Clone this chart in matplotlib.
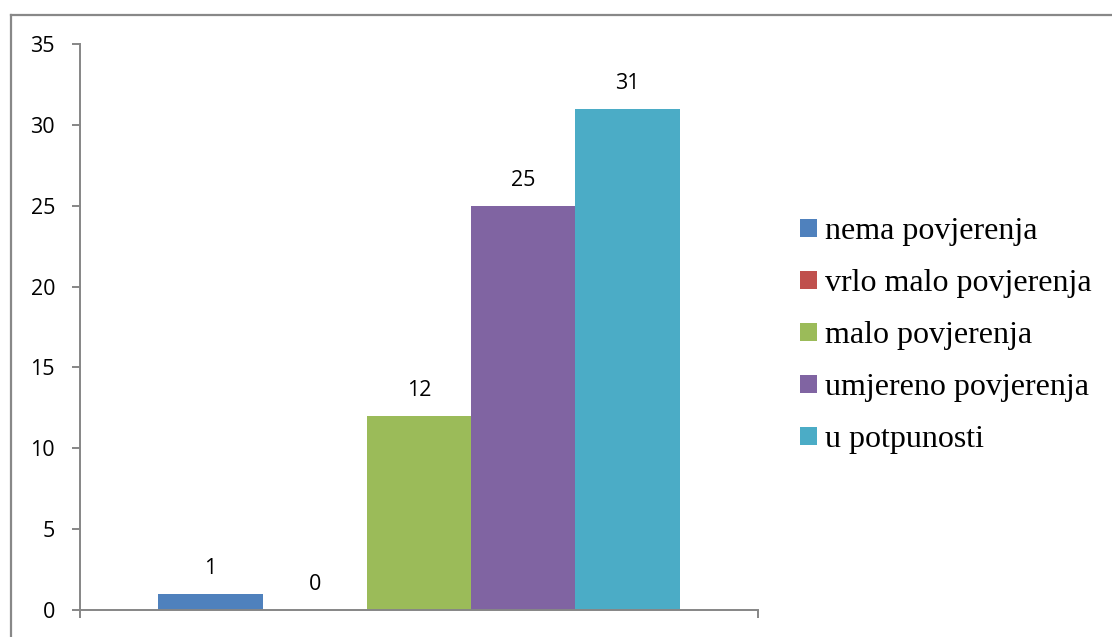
import numpy as np
import matplotlib
matplotlib.use("Agg")
import matplotlib.pyplot as plt
from matplotlib.lines import Line2D

# data
labels = ["nema povjerenja", "vrlo malo povjerenja", "malo povjerenja",
          "umjereno povjerenja", "u potpunosti"]
values = [1, 0, 12, 25, 31]
colors = ["#4F81BD", "#C0504D", "#9BBB59", "#8064A2", "#4BACC6"]
yticks = [0, 5, 10, 15, 20, 25, 30, 35]

W, H = 1112, 637
fig = plt.figure(figsize=(W / 100, H / 100), dpi=100)
fig.patch.set_facecolor("white")

ax = fig.add_axes([80 / W, 1 - 610 / H, 678 / W, (610 - 44) / H])

x = np.arange(len(values))
for i, (v, c, lab) in enumerate(zip(values, colors, labels)):
    ax.bar(x[i], v, width=1.0, color=c, label=lab, zorder=2)
    ax.annotate(str(v), (x[i], v), xytext=(0, 18), textcoords="offset points",
                ha="center", va="center", fontsize=15.5,
                family="Open Sans", color="black")

ax.set_xlim(-1.25, len(values) + 0.25)
ax.set_ylim(0, 35)
ax.set_yticks(yticks)
ax.set_yticklabels([str(t) for t in yticks], family="Open Sans", fontsize=15.5)
ax.set_xticks([-1.25, len(values) + 0.25])
ax.set_xticklabels(["", ""])

grey = "#868686"
for s in ["top", "right"]:
    ax.spines[s].set_visible(False)
for s in ["left", "bottom"]:
    ax.spines[s].set_color(grey)
    ax.spines[s].set_linewidth(1.4)
ax.tick_params(axis="both", direction="out", length=6, width=1.4, color=grey)
ax.tick_params(axis="y", pad=12)

leg = fig.legend(loc="center left", bbox_to_anchor=(800 / W, 1 - 336 / H),
                 frameon=False, prop={"family": "Liberation Serif", "size": 23},
                 handlelength=0.52, handleheight=0.52, handletextpad=0.25,
                 labelspacing=0.72, borderaxespad=0, borderpad=0)

# outer frame (top and left edges visible)
fig.add_artist(Line2D([11 / W, 11 / W], [0, 1 - 15 / H], transform=fig.transFigure,
                      color="#888888", lw=1.6))
fig.add_artist(Line2D([11 / W, 1], [1 - 15 / H, 1 - 15 / H], transform=fig.transFigure,
                      color="#888888", lw=1.6))

fig.savefig("out.png", dpi=100)
